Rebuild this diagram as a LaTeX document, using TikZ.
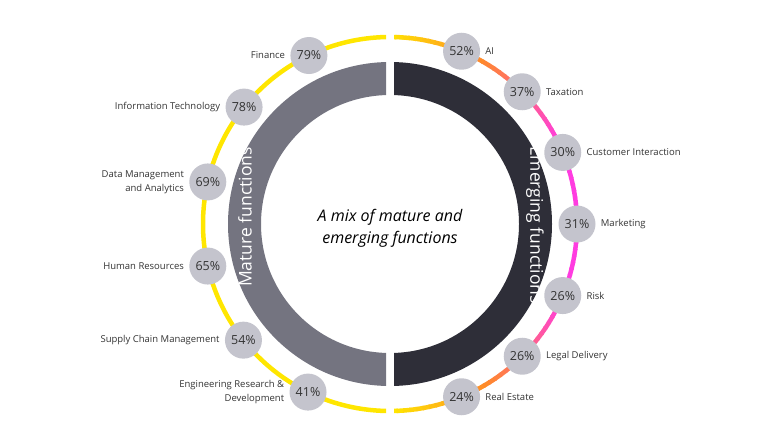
\documentclass[tikz,border=0pt]{standalone}
\usepackage{fontspec}
\setmainfont{Open Sans}
\usetikzlibrary{positioning}
\definecolor{eyyellow}{HTML}{FFE600}
\definecolor{eyorange}{HTML}{FF8A2A}
\definecolor{eymagenta}{HTML}{FF3CE0}
\definecolor{eygray}{HTML}{747480}
\definecolor{eydark}{HTML}{2E2E38}
\definecolor{eybadge}{HTML}{C4C4CD}
\definecolor{eytext}{HTML}{333333}

\tikzset{
    badge/.style = {circle, fill=eybadge, minimum size=37pt, inner sep=0pt,
                    text=eytext, font=\fontsize{12.5}{12.5}\selectfont},
    lab/.style = {text=eytext, font=\fontsize{9.5}{14}\selectfont, inner sep=0pt},
    ringtext/.style = {text=white, font=\fontsize{17.5}{17.5}\selectfont}
}

\begin{document}
\begin{tikzpicture}[x=1pt,y=1pt]
    \useasboundingbox (0,0) rectangle (771,-442);
    \begin{scope}[shift={(390,-224)}]
    % two halves of the ring
    \begin{scope}
        \clip (-300,-300) rectangle (-4,300);
        \fill[eygray, even odd rule] (0,0) circle[radius=162] (0,0) circle[radius=129];
        \draw[eyyellow, line width=4.5] (0,0) circle[radius=187];
    \end{scope}
    \begin{scope}
        \clip (4,-300) rectangle (300,300);
        \fill[eydark, even odd rule] (0,0) circle[radius=162] (0,0) circle[radius=129];
        \foreach \a in {-90,-88,...,88} {
            \pgfmathtruncatemacro\t{abs(\a)}
            \pgfmathtruncatemacro\p{\t>60 ? (\t-60)/30*100 : max(\t-25,0)/35*100}
            \ifnum\t>60 \def\col{eyyellow!\p!eyorange}\else\def\col{eyorange!\p!eymagenta}\fi
            \draw[line width=4.5, color=\col] (\a:187) arc[start angle=\a, end angle=\a+2.4, radius=187];
        }
    \end{scope}
    \node[ringtext, rotate=90] (mature) at (-145,7) {Mature functions};
    \node[ringtext, rotate=-90] (emerging) at (145,-1) {Emerging functions};
    \node[text=black, align=center, font=\fontsize{16}{22}\selectfont\itshape] (mix) at (0,-4)
        {A mix of mature and\\emerging functions};

    % mature functions
    \foreach \n/\a/\v/\t in {m1/115.7/79/Finance, m2/141.3/78/Information Technology,
        m3/167/69/{Data Management\\and Analytics}, m4/193/65/Human Resources,
        m5/218.4/54/Supply Chain Management, m6/244/41/{Engineering Research \&\\Development}} {
        \node[badge] (\n) at (\a:187) {\v\%};
        \node[lab, align=right, left=5pt of \n] {\t};
    }
    % emerging functions
    \foreach \n/\a/\v/\t in {e1/67.5/52/AI, e2/45/37/Taxation, e3/22.5/30/Customer Interaction,
        e4/0/31/Marketing, e5/-22.5/26/Risk, e6/-45/26/Legal Delivery, e7/-67.5/24/Real Estate} {
        \node[badge] (\n) at (\a:187) {\v\%};
        \node[lab, right=5pt of \n] {\t};
    }
    \end{scope}
\end{tikzpicture}
\end{document}
